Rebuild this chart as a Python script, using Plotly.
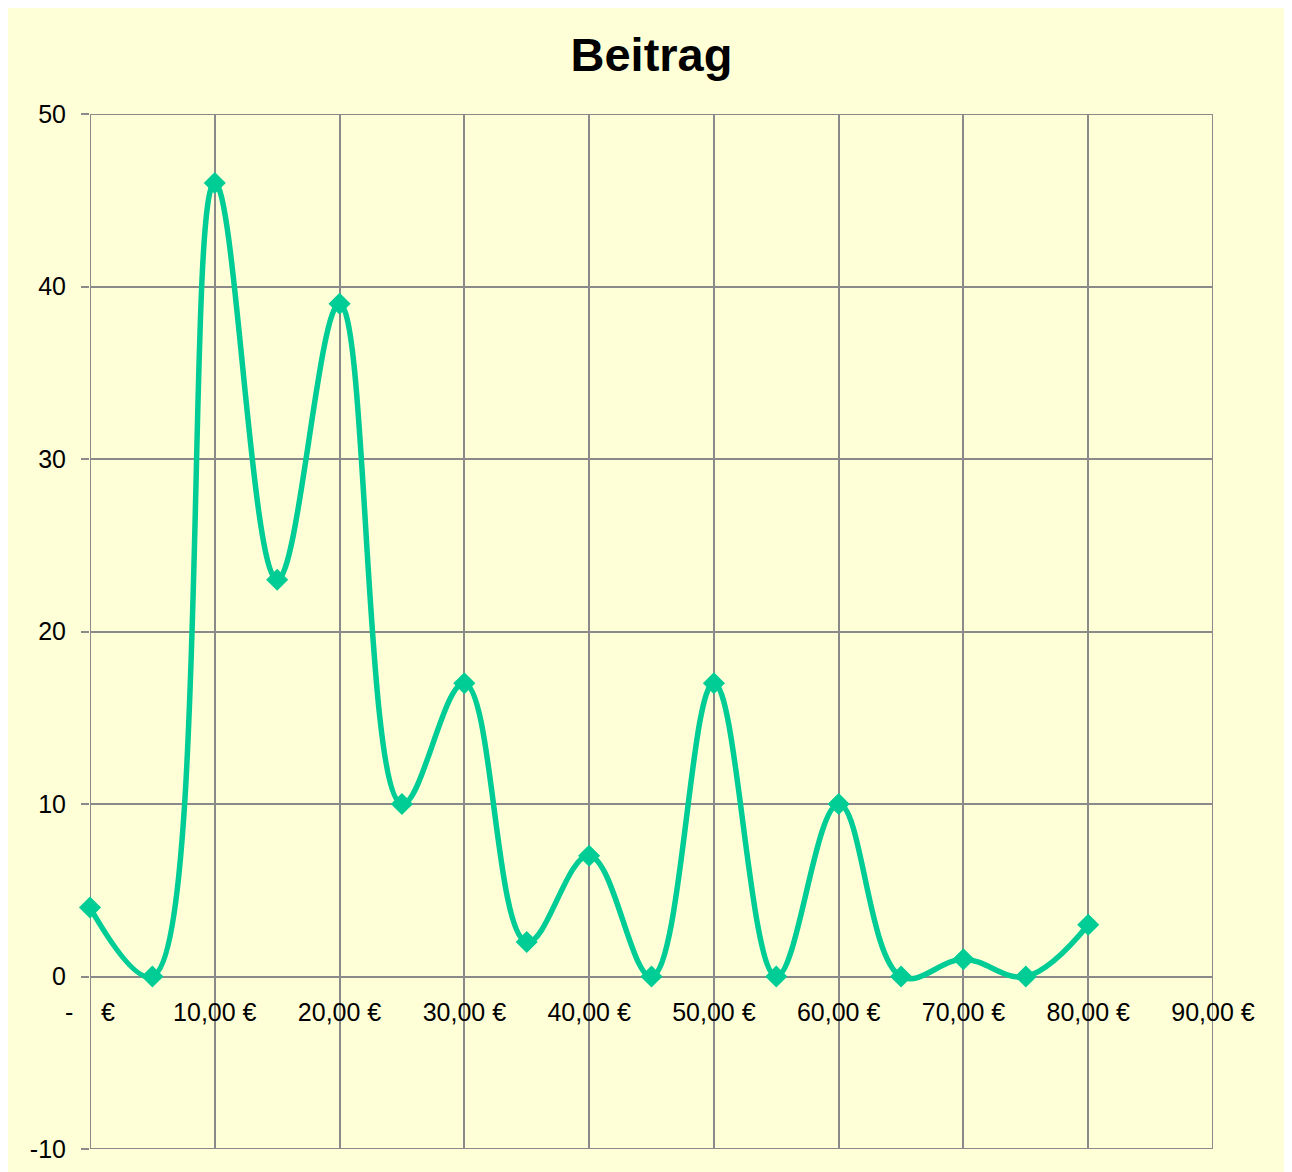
import plotly.graph_objects as go

beitrag_x = [0, 5, 10, 15, 20, 25, 30, 35, 40, 45, 50, 55, 60, 65, 70, 75, 80]
anzahl_y = [4, 0, 46, 23, 39, 10, 17, 2, 7, 0, 17, 0, 10, 0, 1, 0, 3]
x_tickvals = [0, 10, 20, 30, 40, 50, 60, 70, 80, 90]
x_ticktext = ["-\u00a0\u00a0\u00a0\u00a0€", "10,00 €", "20,00 €", "30,00 €", "40,00 €",
              "50,00 €", "60,00 €", "70,00 €", "80,00 €", "90,00 €"]
y_tickvals = [-10, 0, 10, 20, 30, 40, 50]
y_ticktext = ["-10", "0", "10", "20", "30", "40", "50"]

BG = "#FFFFD7"
GRID = "#8A8A8A"
LINE = "#00CC96"
FONT = "Liberation Sans, Arial, sans-serif"

fig = go.Figure()
fig.add_trace(go.Scatter(
    x=beitrag_x, y=anzahl_y, mode="lines+markers",
    line=dict(color=LINE, width=5.5, shape="spline", smoothing=1.1),
    marker=dict(symbol="diamond", size=17, color=LINE),
    showlegend=False, cliponaxis=False,
))

W, H = 1292, 1172
L, R, T, B = 82, 87, 106, 31

# plot-area frame
fig.add_shape(type="rect", xref="x", yref="y",
              x0=x_tickvals[0], x1=x_tickvals[-1],
              y0=y_tickvals[0], y1=y_tickvals[-1],
              line=dict(color=GRID, width=2), layer="below")

fig.update_layout(
    width=W, height=H,
    margin=dict(l=L, r=R, t=T, b=B),
    paper_bgcolor=BG, plot_bgcolor=BG,
    font=dict(family=FONT, size=25, color="black"),
    title=dict(text="<b>Beitrag</b>", x=0.5, xref="paper", xanchor="center",
               y=1 - 47 / H, yanchor="middle",
               font=dict(family=FONT, size=47, color="black")),
    xaxis=dict(range=[0, 90], tickvals=x_tickvals, ticktext=x_ticktext,
               showgrid=True, gridcolor=GRID, gridwidth=2,
               zeroline=False, showline=False, ticks="",
               anchor="free", position=10 / 60, ticklabelstandoff=18,
               tickfont=dict(family=FONT, size=25, color="black")),
    yaxis=dict(range=[-10, 50], tickvals=y_tickvals, ticktext=y_ticktext,
               showgrid=True, gridcolor=GRID, gridwidth=2,
               zeroline=False, showline=False,
               ticks="outside", ticklen=8, tickwidth=2, tickcolor=GRID,
               ticklabelstandoff=10,
               tickfont=dict(family=FONT, size=25, color="black")),
)

fig.write_html("out.html")
